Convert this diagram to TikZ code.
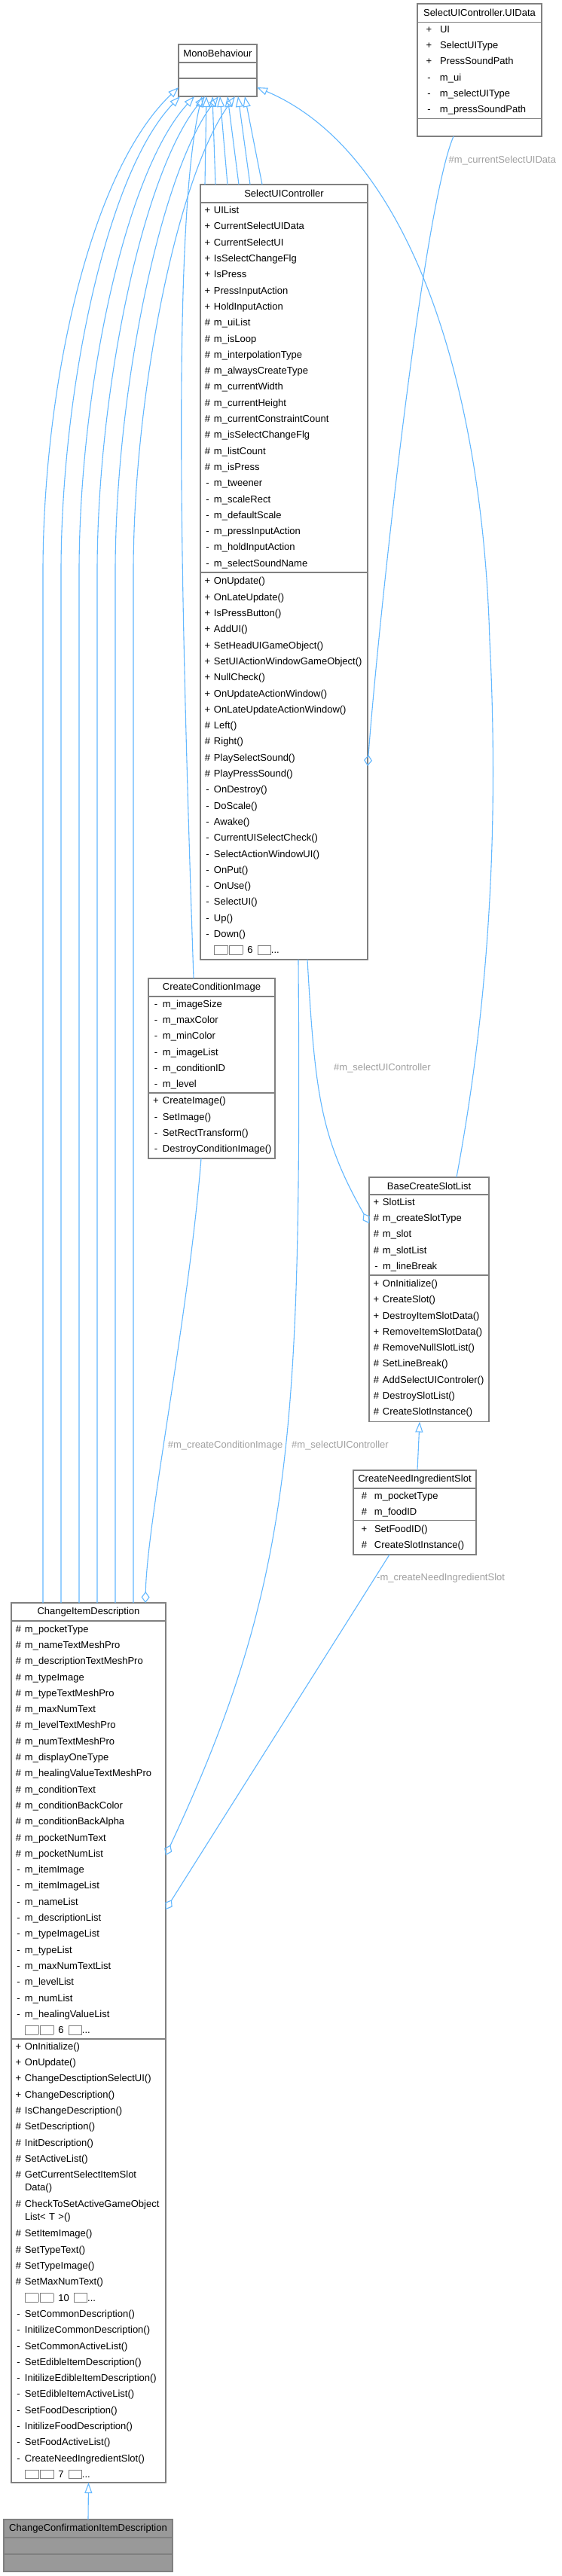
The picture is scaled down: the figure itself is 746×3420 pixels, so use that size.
\documentclass[tikz,border=0pt]{standalone}
\usepackage{fontspec}
\setmainfont{Liberation Sans}
\usetikzlibrary{arrows.meta}
\definecolor{edgeblue}{RGB}{99,184,255}
\definecolor{boxgray}{RGB}{128,128,128}
\definecolor{labelgray}{RGB}{160,160,160}
\definecolor{focusgray}{RGB}{153,153,153}
\newcommand{\vis}[2][9pt]{\makebox[#1][c]{#2}\kern4pt}
\newcommand{\tofu}{{\setlength{\fboxsep}{0pt}\setlength{\fboxrule}{0.7pt}\fcolorbox{gray}{white}{\rule[-1pt]{0pt}{11pt}\hspace{17pt}}}}
\newcommand{\more}[1]{\tofu\hspace{1.5pt}\tofu\hspace{6pt}#1\hspace{6pt}\tofu...}
\tikzset{
      classtitle/.style={
        draw=boxgray,
        line width=1.2pt,
        fill=white,
        anchor=north west,
        outer sep=0pt,
        inner sep=0pt,
        font=\fontsize{13}{16}\selectfont
      },
      classpart/.style={
        draw=boxgray,
        line width=1.2pt,
        fill=white,
        anchor=north west,
        outer sep=0pt,
        inner xsep=5pt,
        inner ysep=0pt,
        align=left,
        font=\fontsize{13}{21.3}\selectfont
      },
      edgelabel/.style={
        anchor=west,
        inner sep=0pt,
        text=labelgray,
        font=\fontsize{13}{15}\selectfont
      },
      inherit/.style={
        draw=edgeblue,
        line width=1.1pt,
        -{Triangle[open,length=14pt,width=10pt]}
      },
      aggregate/.style={
        draw=edgeblue,
        line width=1.1pt,
        -{Diamond[open,length=15pt,width=11pt]}
      }
    }
\begin{document}
\begin{tikzpicture}[x=1pt,y=-1pt]
    \useasboundingbox[fill=white] (0,0) rectangle (746,3420);

    \node[classtitle, minimum width=104pt, minimum height=24pt] (mono) at (237,59) {MonoBehaviour};
    \node[classpart, text width=94pt, minimum height=21pt] (mono-f) at (237,83) {};
    \node[classpart, text width=94pt, minimum height=24pt] (mono-m) at (237,104) {};

    \node[classtitle, minimum width=165pt, minimum height=24.3pt] (uidata) at (554,5) {SelectUIController.UIData};
    \node[classpart, text width=155pt, minimum height=128pt] (uidata-f) at (554,29.3) {\vis[21pt]{+}UI\\ \vis[21pt]{+}SelectUIType\\ \vis[21pt]{+}PressSoundPath\\ \vis[21pt]{-}m\_ui\\ \vis[21pt]{-}m\_selectUIType\\ \vis[21pt]{-}m\_pressSoundPath};
    \node[classpart, text width=155pt, minimum height=23.7pt] (uidata-m) at (554,157.3) {};

    \node[classtitle, minimum width=222pt, minimum height=24pt] (suic) at (266,245) {SelectUIController};
    \node[classpart, text width=212pt, minimum height=491pt] (suic-f) at (266,269) {\vis{+}UIList\\ \vis{+}CurrentSelectUIData\\ \vis{+}CurrentSelectUI\\ \vis{+}IsSelectChangeFlg\\ \vis{+}IsPress\\ \vis{+}PressInputAction\\ \vis{+}HoldInputAction\\ \vis{\#}m\_uiList\\ \vis{\#}m\_isLoop\\ \vis{\#}m\_interpolationType\\ \vis{\#}m\_alwaysCreateType\\ \vis{\#}m\_currentWidth\\ \vis{\#}m\_currentHeight\\ \vis{\#}m\_currentConstraintCount\\ \vis{\#}m\_isSelectChangeFlg\\ \vis{\#}m\_listCount\\ \vis{\#}m\_isPress\\ \vis{-}m\_tweener\\ \vis{-}m\_scaleRect\\ \vis{-}m\_defaultScale\\ \vis{-}m\_pressInputAction\\ \vis{-}m\_holdInputAction\\ \vis{-}m\_selectSoundName};
    \node[classpart, text width=212pt, minimum height=514pt] (suic-m) at (266,760) {\vis{+}OnUpdate()\\ \vis{+}OnLateUpdate()\\ \vis{+}IsPressButton()\\ \vis{+}AddUI()\\ \vis{+}SetHeadUIGameObject()\\ \vis{+}SetUIActionWindowGameObject()\\ \vis{+}NullCheck()\\ \vis{+}OnUpdateActionWindow()\\ \vis{+}OnLateUpdateActionWindow()\\ \vis{\#}Left()\\ \vis{\#}Right()\\ \vis{\#}PlaySelectSound()\\ \vis{\#}PlayPressSound()\\ \vis{-}OnDestroy()\\ \vis{-}DoScale()\\ \vis{-}Awake()\\ \vis{-}CurrentUISelectCheck()\\ \vis{-}SelectActionWindowUI()\\ \vis{-}OnPut()\\ \vis{-}OnUse()\\ \vis{-}SelectUI()\\ \vis{-}Up()\\ \vis{-}Down()\\ \vis{}\more{6}};

    \node[classtitle, minimum width=168pt, minimum height=24pt] (cci) at (197,1299) {CreateConditionImage};
    \node[classpart, text width=158pt, minimum height=128pt] (cci-f) at (197,1323) {\vis[10pt]{-}m\_imageSize\\ \vis[10pt]{-}m\_maxColor\\ \vis[10pt]{-}m\_minColor\\ \vis[10pt]{-}m\_imageList\\ \vis[10pt]{-}m\_conditionID\\ \vis[10pt]{-}m\_level};
    \node[classpart, text width=158pt, minimum height=87pt] (cci-m) at (197,1451) {\vis[10pt]{+}CreateImage()\\ \vis[10pt]{-}SetImage()\\ \vis[10pt]{-}SetRectTransform()\\ \vis[10pt]{-}DestroyConditionImage()};

    \node[classtitle, minimum width=159pt, minimum height=23pt] (bcsl) at (490,1563) {BaseCreateSlotList};
    \node[classpart, text width=149pt, minimum height=107pt] (bcsl-f) at (490,1586) {\vis{+}SlotList\\ \vis{\#}m\_createSlotType\\ \vis{\#}m\_slot\\ \vis{\#}m\_slotList\\ \vis{-}m\_lineBreak};
    \node[classpart, text width=149pt, minimum height=194.5pt] (bcsl-m) at (490,1693) {\vis{+}OnInitialize()\\ \vis{+}CreateSlot()\\ \vis{+}DestroyItemSlotData()\\ \vis{+}RemoveItemSlotData()\\ \vis{\#}RemoveNullSlotList()\\ \vis{\#}SetLineBreak()\\ \vis{\#}AddSelectUIControler()\\ \vis{\#}DestroySlotList()\\ \vis{\#}CreateSlotInstance()};

    \node[classtitle, minimum width=163pt, minimum height=24pt] (cnis) at (469,1952) {CreateNeedIngredientSlot};
    \node[classpart, text width=153pt, minimum height=42.6pt] (cnis-f) at (469,1976) {\vis[19pt]{\#}m\_pocketType\\ \vis[19pt]{\#}m\_foodID};
    \node[classpart, text width=153pt, minimum height=45.4pt] (cnis-m) at (469,2018.6) {\vis[19pt]{+}SetFoodID()\\ \vis[19pt]{\#}CreateSlotInstance()};

    \node[classtitle, minimum width=205pt, minimum height=24pt] (cid) at (15,2128) {ChangeItemDescription};
    \node[classpart, text width=195pt, minimum height=555pt] (cid-f) at (15,2152) {\vis{\#}m\_pocketType\\ \vis{\#}m\_nameTextMeshPro\\ \vis{\#}m\_descriptionTextMeshPro\\ \vis{\#}m\_typeImage\\ \vis{\#}m\_typeTextMeshPro\\ \vis{\#}m\_maxNumText\\ \vis{\#}m\_levelTextMeshPro\\ \vis{\#}m\_numTextMeshPro\\ \vis{\#}m\_displayOneType\\ \vis{\#}m\_healingValueTextMeshPro\\ \vis{\#}m\_conditionText\\ \vis{\#}m\_conditionBackColor\\ \vis{\#}m\_conditionBackAlpha\\ \vis{\#}m\_pocketNumText\\ \vis{\#}m\_pocketNumList\\ \vis{-}m\_itemImage\\ \vis{-}m\_itemImageList\\ \vis{-}m\_nameList\\ \vis{-}m\_descriptionList\\ \vis{-}m\_typeImageList\\ \vis{-}m\_typeList\\ \vis{-}m\_maxNumTextList\\ \vis{-}m\_levelList\\ \vis{-}m\_numList\\ \vis{-}m\_healingValueList\\ \vis{}\more{6}};
    \node[classpart, text width=195pt, minimum height=589pt] (cid-m) at (15,2707) {\vis{+}OnInitialize()\\ \vis{+}OnUpdate()\\ \vis{+}ChangeDesctiptionSelectUI()\\ \vis{+}ChangeDescription()\\ \vis{\#}IsChangeDescription()\\ \vis{\#}SetDescription()\\ \vis{\#}InitDescription()\\ \vis{\#}SetActiveList()\\ \vis{\#}GetCurrentSelectItemSlot\\[-5pt] \vis{}Data()\\[1.5pt] \vis{\#}CheckToSetActiveGameObject\\[-5pt] \vis{}List< T >()\\[1.5pt] \vis{\#}SetItemImage()\\ \vis{\#}SetTypeText()\\ \vis{\#}SetTypeImage()\\ \vis{\#}SetMaxNumText()\\ \vis{}\more{10}\\ \vis{-}SetCommonDescription()\\ \vis{-}InitilizeCommonDescription()\\ \vis{-}SetCommonActiveList()\\ \vis{-}SetEdibleItemDescription()\\ \vis{-}InitilizeEdibleItemDescription()\\ \vis{-}SetEdibleItemActiveList()\\ \vis{-}SetFoodDescription()\\ \vis{-}InitilizeFoodDescription()\\ \vis{-}SetFoodActiveList()\\ \vis{-}CreateNeedIngredientSlot()\\ \vis{}\more{7}};

    \node[classtitle, fill=focusgray, minimum width=224pt, minimum height=24pt] (ccid) at (5,3345) {ChangeConfirmationItemDescription};
    \node[classpart, fill=focusgray, text width=214pt, minimum height=22pt] (ccid-f) at (5,3369) {};
    \node[classpart, fill=focusgray, text width=214pt, minimum height=23pt] (ccid-m) at (5,3391) {};

    \draw[inherit] ([xshift=-60.5pt]cid.north) -- (57,760) .. controls (57,520) and (117,230) .. (mono-m.west);
    \draw[inherit] ([xshift=-36.5pt]cid.north) -- (81,760) .. controls (81,520) and (141,230) .. ([xshift=-50pt]mono-m.south);
    \draw[inherit] ([xshift=-12.5pt]cid.north) -- (105,760) .. controls (105,520) and (165,230) .. ([xshift=-31pt]mono-m.south);
    \draw[inherit] ([xshift=11.5pt]cid.north) -- (129,760) .. controls (129,520) and (189,230) .. ([xshift=-17pt]mono-m.south);
    \draw[inherit] ([xshift=35.5pt]cid.north) -- (153,760) .. controls (153,520) and (213,230) .. ([xshift=1pt]mono-m.south);
    \draw[inherit] ([xshift=59.5pt]cid.north) -- (177,760) .. controls (177,520) and (237,230) .. ([xshift=23pt]mono-m.south);
    \draw[inherit] ([xshift=-24pt]cci.north) .. controls (240,800) and (228,300) .. ([xshift=-21pt]mono-m.south);
    \draw[inherit] ([xshift=-105pt]suic.north) -- ([xshift=-15pt]mono-m.south);
    \draw[inherit] ([xshift=-91pt]suic.north) -- ([xshift=-7pt]mono-m.south);
    \draw[inherit] ([xshift=-75pt]suic.north) -- ([xshift=3pt]mono-m.south);
    \draw[inherit] ([xshift=-60pt]suic.north) -- ([xshift=13pt]mono-m.south);
    \draw[inherit] ([xshift=-45pt]suic.north) -- ([xshift=27pt]mono-m.south);
    \draw[inherit] ([xshift=-29pt]suic.north) -- ([xshift=36pt]mono-m.south);
    \draw[inherit] ([xshift=36.5pt]bcsl.north) .. controls (640,1380) and (665,1150) .. (650,850) .. controls (640,500) and (540,200) .. (mono-m.east);
    \draw[inherit] ([xshift=3.5pt]cnis.north) -- ([xshift=-12.5pt]bcsl-m.south);
    \draw[inherit] (ccid.north) -- (cid-m.south);

    \draw[aggregate] ([xshift=-34.5pt]uidata-m.south) .. controls (560,280) and (500,850) .. (suic-m.east);
    \draw[aggregate] ([xshift=31pt]suic-m.south) .. controls (418,1450) and (425,1510) .. ([yshift=15.5pt]bcsl-f.west);
    \draw[aggregate] ([xshift=19pt]suic-m.south) .. controls (400,1900) and (390,2100) .. ([yshift=-33.5pt]cid-f.east);
    \draw[aggregate] ([xshift=-14pt]cci-m.south) .. controls (250,1750) and (195,2020) .. ([xshift=75.5pt]cid.north);
    \draw[aggregate] ([xshift=-33.5pt]cnis-m.south) -- ([yshift=-105.5pt]cid-f.east);

    \node[edgelabel] (lbl-uidata) at (595.5,213) {\#m\_currentSelectUIData};
    \node[edgelabel] (lbl-select1) at (443,1418) {\#m\_selectUIController};
    \node[edgelabel] (lbl-cond) at (222.6,1919) {\#m\_createConditionImage};
    \node[edgelabel] (lbl-select2) at (387,1919) {\#m\_selectUIController};
    \node[edgelabel] (lbl-need) at (500,2095) {-m\_createNeedIngredientSlot};
    \end{tikzpicture}
\end{document}
